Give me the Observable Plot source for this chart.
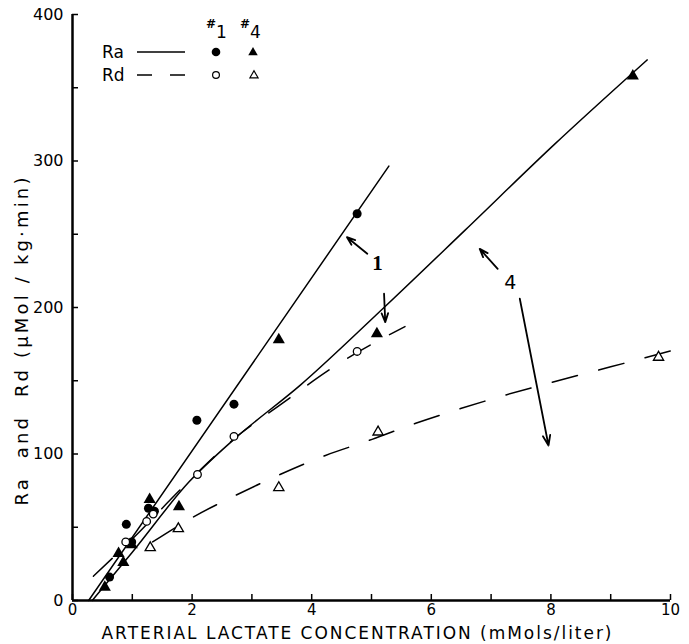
<!DOCTYPE html>
<html>
<head>
<meta charset="utf-8">
<script src="https://cdn.jsdelivr.net/npm/d3@7"></script>
<script src="https://cdn.jsdelivr.net/npm/@observablehq/plot@0.6"></script>
<style>
  html, body { margin: 0; padding: 0; background: white; }
  #wrap { position: relative; width: 689px; height: 644px; }
  #legend { position: absolute; left: 0; top: 0; }
</style>
</head>
<body>
<div id="wrap">
  <div id="chart"></div>
  <svg id="legend" width="300" height="100"></svg>
</div>
<script>
// ---- axis ticks ----
const xTickLabels = [0, 2, 4, 6, 8, 10];
const xTickMarks = [0, 1, 2, 3, 4, 5, 6, 7, 8, 9, 10];
const yTickLabels = [0, 100, 200, 300, 400];
const yTickMarks = [0, 50, 100, 150, 200, 250, 300, 350, 400];

// ---- data points ----
// subject #1, Ra (filled circles)
const ra1X = [0.62, 0.90, 0.99, 1.27, 1.37, 2.08, 2.70, 4.76];
const ra1Y = [16, 52, 40, 63, 61, 123, 134, 264];
// subject #4, Ra (filled triangles)
const ra4X = [0.54, 0.77, 0.85, 0.99, 1.29, 1.78, 3.45, 5.09, 9.37];
const ra4Y = [9, 32, 26, 38, 69, 64, 178, 182, 358];
// subject #1, Rd (open circles)
const rd1X = [0.89, 1.24, 1.35, 2.09, 2.70, 4.76];
const rd1Y = [40, 54, 59, 86, 112, 170];
// subject #4, Rd (open triangles)
const rd4X = [1.30, 1.77, 3.45, 5.11, 9.80];
const rd4Y = [36, 49, 77, 115, 166];

// ---- fitted lines ----
const fitRa1X = [0.27, 5.29];
const fitRa1Y = [0, 296.5];
const fitRa4X = [0.33, 1.0, 1.95, 2.7, 3.81, 5.21, 6.57, 8.05, 9.61];
const fitRa4Y = [0, 33, 81, 110, 147, 200, 253, 311, 369];
const fitRd1X = [0.35, 1.0, 1.86, 2.81, 3.42, 4.45, 5.56];
const fitRd1Y = [16.6, 42, 78, 114, 132, 161.6, 187];
const fitRd4X = [1.34, 2.02, 2.74, 3.47, 4.23, 5.01, 5.74, 6.49, 7.22, 8.02, 9.0, 10.15];
const fitRd4Y = [40, 57, 72, 86, 99, 110, 121, 131, 140, 149, 159.5, 172];

// ---- annotations ----
const annText = ["1", "4"];
const annX = [5.10, 7.32];
const annY = [230, 217];
const arrowX1 = [4.93, 5.21, 7.11, 7.48];
const arrowY1 = [236.7, 209.4, 226.4, 206];
const arrowX2 = [4.59, 5.23, 6.81, 7.96];
const arrowY2 = [248, 190, 240, 105.8];

// ---- text ----
const xTitle = "ARTERIAL LACTATE CONCENTRATION (mMols/liter)";
const yTitle = "Ra  and  Rd (\u03bcMol / kg\u00b7min)";
const legendRows = ["Ra", "Rd"];
const legendSubjects = ["1", "4"];

const idx = a => d3.range(a.length);
const pts = (X, Y) => idx(X).map(i => ({x: X[i], y: Y[i]}));

const FONT = "DejaVu Sans";

const chart = Plot.plot({
  width: 689,
  height: 644,
  marginLeft: 72,
  marginRight: 19,
  marginTop: 14,
  marginBottom: 44,
  x: {domain: [0, 10], axis: null},
  y: {domain: [0, 400], axis: null},
  style: {fontFamily: FONT, fontSize: "16px", color: "black", background: "white", overflow: "visible"},
  marks: [
    // axis lines
    Plot.ruleY([0], {stroke: "black", strokeWidth: 2.5}),
    Plot.ruleX([0], {stroke: "black", strokeWidth: 2.5}),
    // inward ticks
    Plot.tickX(xTickMarks, {x: d => d, insetTop: 580, stroke: "black", strokeWidth: 1.5}),
    Plot.tickY(yTickMarks, {y: d => d, insetRight: 592, stroke: "black", strokeWidth: 1.5}),
    // tick labels
    Plot.axisX(xTickLabels, {tickSize: 0, tickPadding: 4, label: null, fontSize: 15}),
    Plot.axisY(yTickLabels, {tickSize: 0, tickPadding: 9, label: null, fontSize: 16}),
    // axis titles
    Plot.text([xTitle], {frameAnchor: "bottom", lineAnchor: "middle", textAnchor: "middle", dy: 33, dx: -15, fontSize: 17, text: d => d}),
    Plot.text([yTitle], {frameAnchor: "left", lineAnchor: "middle", textAnchor: "middle", rotate: -90, dx: -50, dy: 34, fontSize: 18, text: d => d}),
    // fitted lines
    Plot.line(pts(fitRa1X, fitRa1Y), {x: "x", y: "y", stroke: "black", strokeWidth: 1.5}),
    Plot.line(pts(fitRa4X, fitRa4Y), {x: "x", y: "y", stroke: "black", strokeWidth: 1.5, curve: "monotone-x"}),
    Plot.line(pts(fitRd1X, fitRd1Y), {x: "x", y: "y", stroke: "black", strokeWidth: 1.5, curve: "monotone-x", strokeDasharray: "26,22"}),
    Plot.line(pts(fitRd4X, fitRd4Y), {x: "x", y: "y", stroke: "black", strokeWidth: 1.5, curve: "monotone-x", strokeDasharray: "26,22"}),
    // points
    Plot.dot(pts(ra1X, ra1Y), {x: "x", y: "y", r: 4.5, fill: "black", symbol: "circle"}),
    Plot.dot(pts(ra4X, ra4Y), {x: "x", y: "y", r: 4.5, fill: "black", symbol: "triangle"}),
    Plot.dot(pts(rd1X, rd1Y), {x: "x", y: "y", r: 3.8, fill: "white", stroke: "black", strokeWidth: 1.3, symbol: "circle"}),
    Plot.dot(pts(rd4X, rd4Y), {x: "x", y: "y", r: 3.8, fill: "white", stroke: "black", strokeWidth: 1.3, symbol: "triangle"}),
    // annotation arrows
    Plot.arrow(idx(arrowX1), {
      x1: i => arrowX1[i], y1: i => arrowY1[i], x2: i => arrowX2[i], y2: i => arrowY2[i],
      stroke: "black", strokeWidth: 1.8, headLength: 9, headAngle: 40
    }),
    // annotation labels
    Plot.text([0], {x: i => annX[i], y: i => annY[i], text: i => annText[i], fontSize: 21, fontFamily: "Liberation Serif", fontWeight: "bold"}),
    Plot.text([1], {x: i => annX[i], y: i => annY[i], text: i => annText[i], fontSize: 19})
  ]
});
document.getElementById("chart").appendChild(chart);

// stretch the titles to the wide lettering of the original
d3.select(chart).selectAll("text")
  .filter(function () { return this.textContent === xTitle; })
  .attr("textLength", 510).attr("lengthAdjust", "spacing");
d3.select(chart).selectAll("text")
  .filter(function () { return this.textContent === yTitle; })
  .attr("textLength", 328).attr("lengthAdjust", "spacing");

// ---- legend (top-left key) ----
const lg = d3.select("#legend").style("font-family", FONT);
const rowY = [52, 75];
legendRows.forEach((label, i) => {
  lg.append("text").attr("x", 102).attr("y", rowY[i] + 6).attr("font-size", 17).text(label);
  const ln = lg.append("line").attr("x1", 137).attr("x2", 185).attr("y1", rowY[i]).attr("y2", rowY[i])
    .attr("stroke", "black").attr("stroke-width", 1.6);
  if (i === 1) ln.attr("stroke-dasharray", "15,18");
});
const tri = (cx, cy, s) => `M${cx},${cy - s}L${cx + s * 0.95},${cy + s * 0.65}L${cx - s * 0.95},${cy + s * 0.65}Z`;
lg.append("circle").attr("cx", 216).attr("cy", rowY[0]).attr("r", 4.3).attr("fill", "black");
lg.append("path").attr("d", tri(253, rowY[0], 5)).attr("fill", "black");
lg.append("circle").attr("cx", 216).attr("cy", rowY[1]).attr("r", 3.4).attr("fill", "white").attr("stroke", "black").attr("stroke-width", 1.2);
lg.append("path").attr("d", tri(254, rowY[1], 4.3)).attr("fill", "white").attr("stroke", "black").attr("stroke-width", 1.2);
const subjX = [206, 240];
legendSubjects.forEach((s, i) => {
  const t = lg.append("text").attr("x", subjX[i]).attr("y", 38).attr("font-size", 17);
  t.append("tspan").attr("font-size", 12).attr("dy", -10).attr("font-weight", "bold").text("#");
  t.append("tspan").attr("dy", 10).text(s);
});
</script>
</body>
</html>
